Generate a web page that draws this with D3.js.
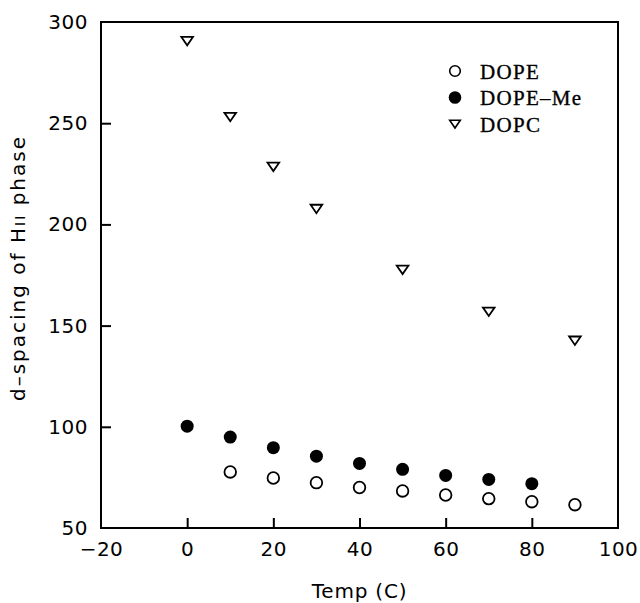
<!DOCTYPE html>
<html>
<head>
<meta charset="utf-8">
<script src="https://cdn.jsdelivr.net/npm/d3@7"></script>
<style>
  body { margin: 0; background: #fff; }
  svg text { fill: #000; }
</style>
</head>
<body>
<div id="chart"></div>
<script>
// --- data ---
const dopeTemp   = [10, 20, 30, 40, 50, 60, 70, 80, 90];
const dopeVal    = [77.7, 74.7, 72.4, 70.0, 68.3, 66.3, 64.5, 63.0, 61.5];
const dopeMeTemp = [0, 10, 20, 30, 40, 50, 60, 70, 80];
const dopeMeVal  = [100.3, 94.9, 89.7, 85.5, 81.9, 79.0, 76.0, 74.0, 71.9];
const dopcTemp   = [0, 10, 20, 30, 50, 70, 90];
const dopcVal    = [290.6, 253.1, 228.5, 207.7, 177.6, 156.9, 142.6];

const xTicks = [-20, 0, 20, 40, 60, 80, 100];
const yTicks = [50, 100, 150, 200, 250, 300];
const seriesNames = ["DOPE", "DOPE\u2013Me", "DOPC"];

const width = 640, height = 603;
const plot = {left: 101, right: 618, top: 22, bottom: 528};

const svg = d3.select("#chart").append("svg")
  .attr("width", width).attr("height", height);

const x = d3.scaleLinear().domain([-20, 100]).range([plot.left, plot.right]);
const y = d3.scaleLinear().domain([50, 300]).range([plot.bottom, plot.top]);

// axes (ticks point inward, only on left and bottom)
const xAxis = svg.append("g")
  .attr("transform", `translate(0,${plot.bottom})`)
  .call(d3.axisBottom(x).tickValues(xTicks).tickSize(-10).tickPadding(14)
        .tickFormat(d => d < 0 ? "\u2212" + Math.abs(d) : d));
const yAxis = svg.append("g")
  .attr("transform", `translate(${plot.left},0)`)
  .call(d3.axisLeft(y).tickValues(yTicks).tickSize(-10).tickPadding(13));

[xAxis, yAxis].forEach(g => {
  g.select(".domain").remove();
  g.selectAll(".tick line").attr("stroke", "#000").attr("stroke-width", 2);
  g.selectAll(".tick text")
    .attr("font-family", "DejaVu Sans, sans-serif")
    .attr("font-size", 20)
    .attr("letter-spacing", 0.5)
    .attr("fill", "#000");
});
xAxis.selectAll(".tick").filter(d => d === -20 || d === 100).select("line").remove();
yAxis.selectAll(".tick").filter(d => d === 50 || d === 300).select("line").remove();

// frame
svg.append("rect")
  .attr("x", plot.left).attr("y", plot.top)
  .attr("width", plot.right - plot.left).attr("height", plot.bottom - plot.top)
  .attr("fill", "none").attr("stroke", "#000").attr("stroke-width", 2);

// axis titles
svg.append("text")
  .attr("x", (plot.left + plot.right) / 2).attr("y", 598)
  .attr("text-anchor", "middle")
  .attr("font-family", "DejaVu Sans, sans-serif").attr("font-size", 20)
  .attr("letter-spacing", 0.8)
  .text("Temp (C)");

const yt = svg.append("text")
  .attr("transform", `translate(25,${(plot.top + plot.bottom) / 2 - 7}) rotate(-90)`)
  .attr("text-anchor", "middle")
  .attr("font-family", "DejaVu Sans, sans-serif").attr("font-size", 20)
  .attr("letter-spacing", 2);
yt.append("tspan").text("d\u2013spacing of H");
yt.append("tspan").attr("font-size", 14).text("II");
yt.append("tspan").text(" phase");

// markers
const tri = s => `M${-s},${-s * 0.7}L${s},${-s * 0.7}L0,${s * 0.75}Z`;

svg.append("g").selectAll("circle")
  .data(dopeTemp.map((t, i) => [t, dopeVal[i]]))
  .join("circle")
    .attr("cx", d => x(d[0])).attr("cy", d => y(d[1])).attr("r", 5.8)
    .attr("fill", "#fff").attr("stroke", "#000").attr("stroke-width", 1.8);

svg.append("g").selectAll("circle")
  .data(dopeMeTemp.map((t, i) => [t, dopeMeVal[i]]))
  .join("circle")
    .attr("cx", d => x(d[0])).attr("cy", d => y(d[1])).attr("r", 6.5)
    .attr("fill", "#000");

svg.append("g").selectAll("path")
  .data(dopcTemp.map((t, i) => [t, dopcVal[i]]))
  .join("path")
    .attr("transform", d => `translate(${x(d[0])},${y(d[1])})`)
    .attr("d", tri(5.8))
    .attr("fill", "#fff").attr("stroke", "#000").attr("stroke-width", 1.8)
    .attr("stroke-linejoin", "miter");

// legend
const legend = svg.append("g").attr("transform", "translate(455,71)");
seriesNames.forEach((name, i) => {
  const row = legend.append("g").attr("transform", `translate(0,${i * 26.5})`);
  if (i === 0) {
    row.append("circle").attr("r", 5.3).attr("fill", "#fff")
      .attr("stroke", "#000").attr("stroke-width", 1.6);
  } else if (i === 1) {
    row.append("circle").attr("r", 6.3).attr("fill", "#000");
  } else {
    row.append("path").attr("d", tri(5.3)).attr("fill", "#fff")
      .attr("stroke", "#000").attr("stroke-width", 1.6);
  }
  row.append("text")
    .attr("x", 25).attr("y", 7.5)
    .attr("font-family", "Liberation Serif, Times New Roman, serif")
    .attr("font-size", 21)
    .attr("letter-spacing", 1.3)
    .attr("stroke", "#000").attr("stroke-width", 0.35)
    .text(name);
});
</script>
</body>
</html>
